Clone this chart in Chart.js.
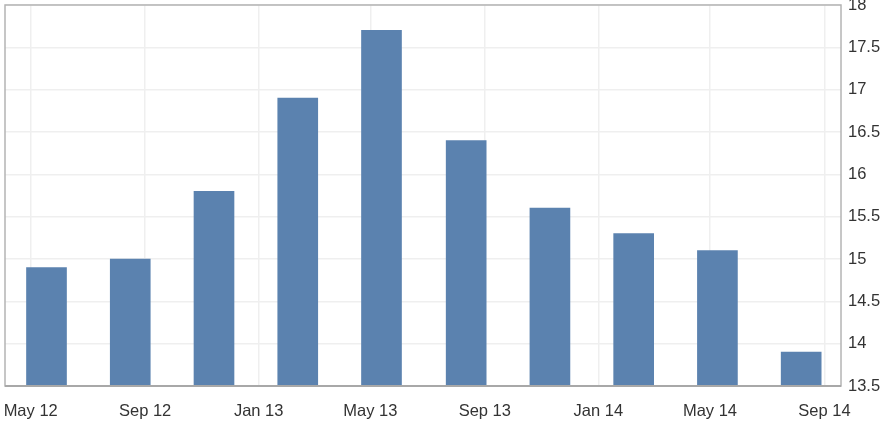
<!DOCTYPE html>
<html>
<head>
<meta charset="utf-8">
<script src="https://cdn.jsdelivr.net/npm/chart.js@4/dist/chart.umd.min.js"></script>
<style>
  html, body { margin: 0; padding: 0; background: #fff; }
  #wrap { width: 891px; height: 428px; }
</style>
</head>
<body>
<div id="wrap"><canvas id="chart"></canvas></div>
<script>
// quarterly readings (bar dates and values)
var barDates = ["2012-05-18", "2012-08-16", "2012-11-14", "2013-02-12", "2013-05-13",
                "2013-08-12", "2013-11-10", "2014-02-08", "2014-05-09", "2014-08-07"];
var barValues = [14.9, 15.0, 15.8, 16.9, 17.7, 16.4, 15.6, 15.3, 15.1, 13.9];

// x axis ticks
var tickDates = ["2012-05-01", "2012-09-01", "2013-01-01", "2013-05-01",
                 "2013-09-01", "2014-01-01", "2014-05-01", "2014-09-01"];
var tickLabels = ["May 12", "Sep 12", "Jan 13", "May 13", "Sep 13", "Jan 14", "May 14", "Sep 14"];

// day number from a date string
function toDay(s) {
  var p = s.split("-");
  return Date.UTC(+p[0], +p[1] - 1, +p[2]) / 86400000;
}

var points = barDates.map(function(d, i) {
  return { x: toDay(d), y: barValues[i] };
});

// frame round the plot area
var framePlugin = {
  id: "frame",
  afterDatasetsDraw: function(chart) {
    var a = chart.chartArea, ctx = chart.ctx;
    ctx.save();
    ctx.strokeStyle = "#b4b4b4";
    ctx.lineWidth = 1.5;
    ctx.strokeRect(a.left, a.top, a.right - a.left, a.bottom - a.top);
    ctx.strokeStyle = "#a8a8a8";
    ctx.lineWidth = 2;
    ctx.beginPath();
    ctx.moveTo(a.left, a.bottom);
    ctx.lineTo(a.right, a.bottom);
    ctx.stroke();
    ctx.restore();
  }
};

var canvas = document.getElementById("chart");
new Chart(canvas, {
  type: "bar",
  data: {
    datasets: [{
      data: points,
      backgroundColor: "#5b82af",
      borderWidth: 0,
      barThickness: 40
    }]
  },
  options: {
    responsive: true,
    maintainAspectRatio: false,
    animation: false,
    layout: { padding: { top: 5, left: 5, right: 0, bottom: 0 } },
    plugins: { legend: { display: false }, tooltip: { enabled: false } },
    scales: {
      x: {
        type: "linear",
        offset: false,
        min: toDay("2012-05-01") - 27.6,
        max: toDay("2014-09-01") + 17.8,
        grid: { color: "#efefef", lineWidth: 1.5, drawTicks: false, offset: false },
        border: { display: false },
        afterBuildTicks: function(scale) {
          scale.ticks = tickDates.map(function(d) { return { value: toDay(d) }; });
        },
        afterFit: function(scale) {
          scale.height = 42;
          scale.paddingLeft = 0;
          scale.paddingRight = 0;
        },
        ticks: {
          autoSkip: false,
          maxRotation: 0,
          padding: 16,
          color: "#333",
          font: { family: "'Liberation Sans', Arial, sans-serif", size: 16.5 },
          callback: function(value, index) { return tickLabels[index]; }
        }
      },
      y: {
        position: "right",
        min: 13.5,
        max: 18,
        grid: { color: "#efefef", lineWidth: 1.5, drawTicks: false },
        border: { display: false },
        afterFit: function(scale) {
          scale.width = 50;
          scale.paddingTop = 0;
          scale.paddingBottom = 0;
        },
        ticks: {
          stepSize: 0.5,
          padding: 7,
          color: "#333",
          font: { family: "'Liberation Sans', Arial, sans-serif", size: 16.5 },
          callback: function(value) { return String(+value.toFixed(1)); }
        }
      }
    }
  },
  plugins: [framePlugin]
});
</script>
</body>
</html>
